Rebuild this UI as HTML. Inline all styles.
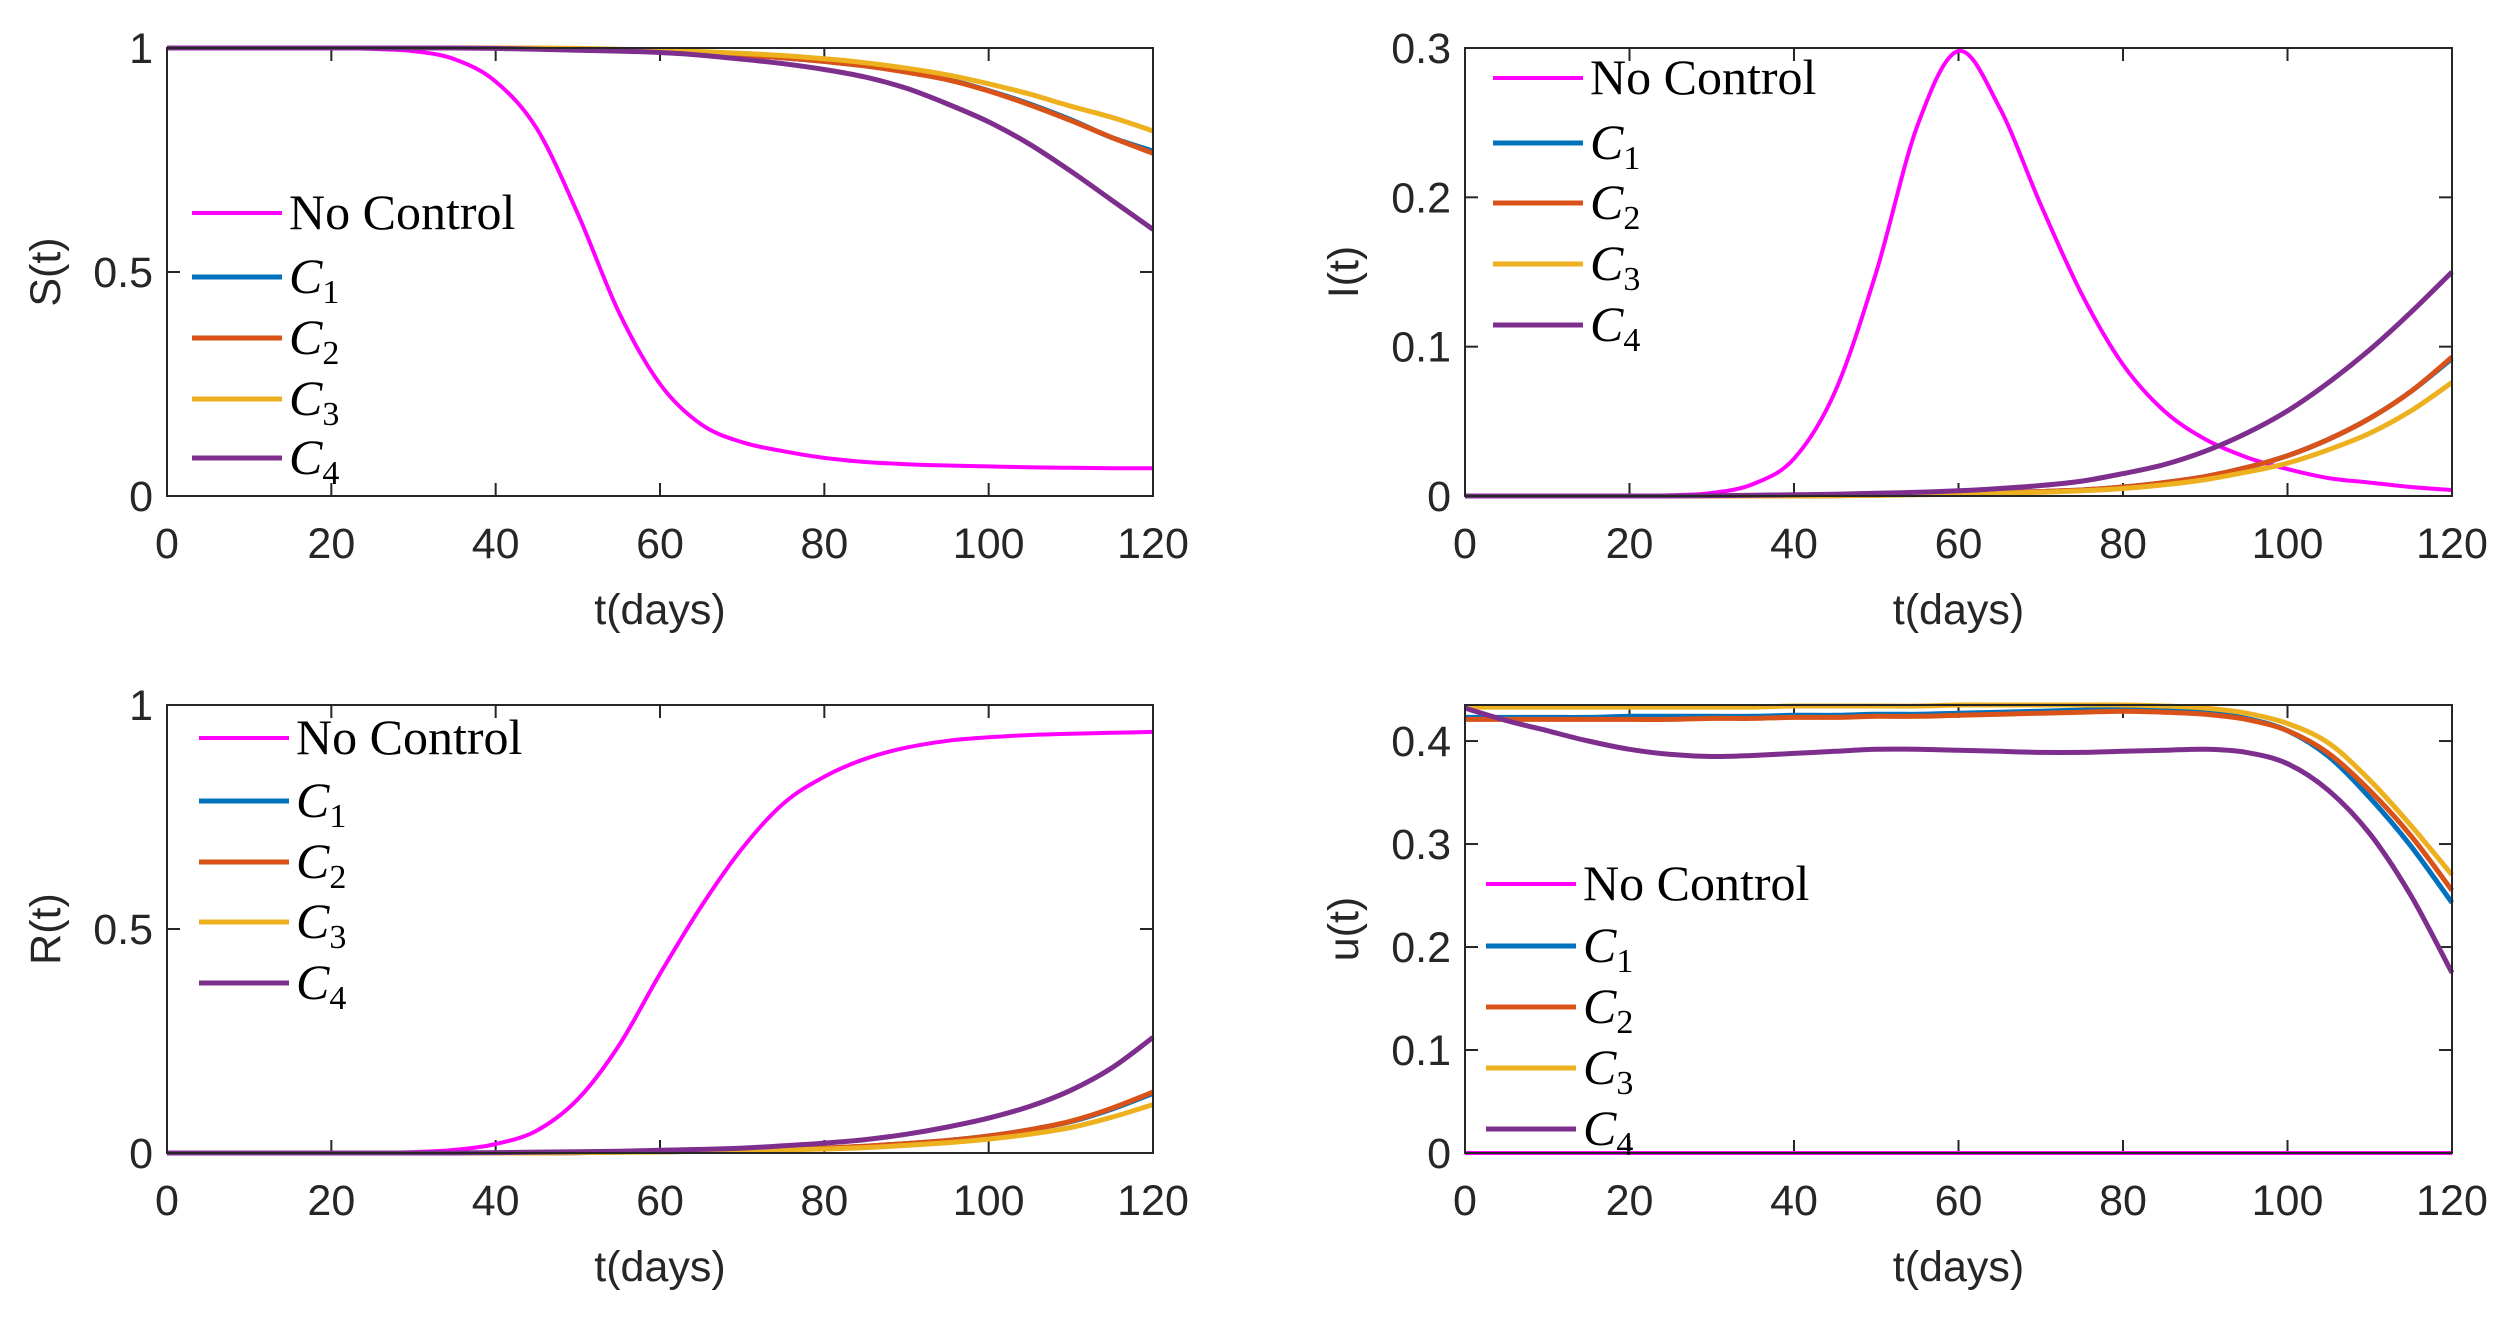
<!DOCTYPE html>
<html><head><meta charset="utf-8"><style>
html,body{margin:0;padding:0;background:#fff;}
svg{display:block;}
</style></head><body>
<svg id="fig" width="2511" height="1320" viewBox="0 0 2511 1320" xmlns="http://www.w3.org/2000/svg"></svg>
<script>
const tGrid = [0,5,10,15,20,25,30,35,40,45,50,55,60,65,70,75,80,85,90,95,100,105,110,115,120];
const seriesNames = ["No Control","C1","C2","C3","C4"];
const colors = ["#FF00FF","#0072BD","#D95319","#EDB120","#7E2F8E"];
// S(t)
const S_nc = [1,1,1,1,1,0.998,0.993,0.975,0.925,0.82,0.63,0.41,0.25,0.16,0.12,0.10,0.085,0.076,0.071,0.068,0.066,0.064,0.063,0.062,0.062];
const S_c1 = [1,1,1,1,1,1,1,1,1,0.999,0.998,0.996,0.993,0.989,0.984,0.978,0.97,0.96,0.947,0.93,0.905,0.875,0.84,0.80,0.77];
const S_c2 = [1,1,1,1,1,1,1,1,1,0.999,0.998,0.996,0.993,0.989,0.984,0.978,0.97,0.96,0.946,0.929,0.904,0.873,0.838,0.80,0.765];
const S_c3 = [1,1,1,1,1,1,1,1,1,1,0.999,0.997,0.995,0.992,0.988,0.983,0.976,0.967,0.955,0.94,0.92,0.897,0.87,0.845,0.815];
const S_c4 = [1,1,1,1,1,1,1,1,0.999,0.997,0.995,0.993,0.99,0.984,0.975,0.965,0.952,0.935,0.91,0.875,0.835,0.785,0.725,0.66,0.595];
// I(t)
const I_nc = [0,0,0,0,0,0.0005,0.002,0.008,0.025,0.07,0.15,0.248,0.298,0.26,0.195,0.135,0.088,0.057,0.038,0.026,0.018,0.012,0.009,0.006,0.004];
const I_c1 = [0,0,0,0,0,0,0,0,0,0.0003,0.0006,0.001,0.0015,0.002,0.003,0.004,0.006,0.009,0.013,0.019,0.027,0.038,0.052,0.07,0.092];
const I_c2 = [0,0,0,0,0,0,0,0,0,0.0003,0.0006,0.001,0.0015,0.002,0.003,0.004,0.006,0.009,0.013,0.019,0.027,0.038,0.052,0.07,0.093];
const I_c3 = [0,0,0,0,0,0,0,0,0,0.0002,0.0004,0.0008,0.0012,0.0018,0.0025,0.0035,0.005,0.0075,0.011,0.016,0.022,0.031,0.042,0.057,0.076];
const I_c4 = [0,0,0,0,0,0,0.0002,0.0005,0.0008,0.0012,0.0018,0.0025,0.0035,0.005,0.007,0.01,0.015,0.021,0.03,0.042,0.057,0.076,0.098,0.123,0.15];
// R(t)
const R_nc = [0,0,0,0,0,0.0005,0.002,0.007,0.02,0.05,0.12,0.24,0.40,0.55,0.68,0.78,0.84,0.88,0.905,0.92,0.928,0.933,0.936,0.938,0.94];
const R_c1 = [0,0,0,0,0,0,0,0,0,0,0.001,0.002,0.003,0.004,0.006,0.008,0.011,0.015,0.021,0.028,0.038,0.052,0.07,0.098,0.133];
const R_c2 = [0,0,0,0,0,0,0,0,0,0,0.001,0.002,0.003,0.004,0.006,0.008,0.011,0.015,0.021,0.028,0.038,0.052,0.071,0.1,0.136];
const R_c3 = [0,0,0,0,0,0,0,0,0,0,0.001,0.0015,0.0025,0.0035,0.005,0.007,0.009,0.012,0.017,0.023,0.031,0.042,0.057,0.08,0.108];
const R_c4 = [0,0,0,0,0,0,0,0,0.001,0.002,0.003,0.004,0.006,0.008,0.011,0.016,0.022,0.03,0.042,0.058,0.078,0.104,0.14,0.19,0.258];
// u(t)
const u_nc = [0,0,0,0,0,0,0,0,0,0,0,0,0,0,0,0,0,0,0,0,0,0,0,0,0];
const u_c1 = [0.423,0.423,0.423,0.423,0.424,0.424,0.424,0.424,0.425,0.425,0.426,0.426,0.427,0.428,0.429,0.43,0.431,0.43,0.428,0.422,0.41,0.385,0.345,0.298,0.243];
const u_c2 = [0.421,0.421,0.421,0.421,0.421,0.421,0.422,0.422,0.423,0.423,0.424,0.424,0.425,0.426,0.427,0.428,0.429,0.428,0.426,0.421,0.41,0.388,0.352,0.308,0.255];
const u_c3 = [0.433,0.433,0.433,0.433,0.433,0.433,0.433,0.433,0.434,0.434,0.434,0.434,0.435,0.435,0.435,0.435,0.435,0.434,0.432,0.427,0.417,0.398,0.362,0.318,0.27];
const u_c4 = [0.432,0.42,0.41,0.4,0.392,0.387,0.385,0.386,0.388,0.39,0.392,0.392,0.391,0.39,0.389,0.389,0.39,0.391,0.392,0.389,0.378,0.352,0.31,0.25,0.175];
const xTicks = [0,20,40,60,80,100,120];
const ySticks = [0,0.5,1];
const yItick = [0,0.1,0.2,0.3];
const yUtick = [0,0.1,0.2,0.3,0.4];

const NS="http://www.w3.org/2000/svg";
const svg=document.getElementById('fig');
function mk(tag,attrs,parent){const e=document.createElementNS(NS,tag);for(const k in attrs)e.setAttribute(k,attrs[k]);(parent||svg).appendChild(e);return e;}
function fmt(v){return (Math.round(v*10)/10).toString();}
function pathFrom(xs,ys){
  let d="M"+xs[0].toFixed(1)+","+ys[0].toFixed(1);
  for(let i=0;i<xs.length-1;i++){
    const x0=xs[Math.max(i-1,0)],y0=ys[Math.max(i-1,0)],x1=xs[i],y1=ys[i],x2=xs[i+1],y2=ys[i+1],x3=xs[Math.min(i+2,xs.length-1)],y3=ys[Math.min(i+2,xs.length-1)];
    const c1x=x1+(x2-x0)/6,c1y=y1+(y2-y0)/6,c2x=x2-(x3-x1)/6,c2y=y2-(y3-y1)/6;
    d+=" C"+c1x.toFixed(1)+","+c1y.toFixed(1)+" "+c2x.toFixed(1)+","+c2y.toFixed(1)+" "+x2.toFixed(1)+","+y2.toFixed(1);
  }
  return d;
}
function panel(cfg){
  const g=mk('g',{});
  
  
  const L=cfg.x0,R=cfg.x1,T=cfg.y0,B=cfg.y1;
  const sx=v=>L+(v-0)/120*(R-L);
  const sy=v=>B-(v-cfg.ymin)/(cfg.ymax-cfg.ymin)*(B-T);
  const fam='"Liberation Sans",Arial,sans-serif';
  xTicks.forEach(t=>{
    const x=sx(t);
    mk('line',{x1:x,y1:B,x2:x,y2:B-13,stroke:'#262626','stroke-width':2},g);
    mk('line',{x1:x,y1:T,x2:x,y2:T+13,stroke:'#262626','stroke-width':2},g);
    const tx=mk('text',{x:x,y:B+62,'font-family':fam,'font-size':43,'text-anchor':'middle',fill:'#262626'},g);
    tx.textContent=t;
    
    
  });
  cfg.yt.forEach(v=>{
    const y=sy(v);
    mk('line',{x1:L,y1:y,x2:L+13,y2:y,stroke:'#262626','stroke-width':2},g);
    mk('line',{x1:R,y1:y,x2:R-13,y2:y,stroke:'#262626','stroke-width':2},g);
    const tx=mk('text',{x:L-14,y:y+15,'font-family':fam,'font-size':43,'text-anchor':'end',fill:'#262626'},g);
    tx.textContent=fmt(v);
    
    
  });
  cfg.series.forEach((arr,i)=>{
    const xs=tGrid.map(sx), ys=arr.map(sy);
    const p=mk('path',{d:pathFrom(xs,ys),fill:'none',stroke:colors[i],'stroke-width':i===0?4:5,'stroke-linejoin':'round'},g);
    
    
  });
  mk('rect',{x:L,y:T,width:R-L,height:B-T,fill:'none',stroke:'#262626','stroke-width':2},g);
  const xl=mk('text',{x:(L+R)/2,y:B+128,'font-family':fam,'font-size':43,'text-anchor':'middle',fill:'#262626'},g);
  xl.textContent='t(days)';
  
  
  const yx=cfg.ylx, yy=(T+B)/2;
  const yl=mk('text',{x:yx,y:yy,'font-family':fam,'font-size':43,'text-anchor':'middle',fill:'#262626',transform:'rotate(-90 '+yx+' '+yy+')'},g);
  yl.textContent=cfg.ylabel;
  
  
  const lg=mk('g',{},g);
  
  
  cfg.legY.forEach((y,i)=>{
    const e=mk('g',{},lg);
    
    
    mk('line',{x1:cfg.legX,y1:y,x2:cfg.legX+90,y2:y,stroke:colors[i],'stroke-width':i===0?4:5},e);
    const tx=mk('text',{x:cfg.legX+97,y:y+16,'font-family':'"Liberation Serif",serif','font-size':50,fill:'#000'},e);
    if(i===0){tx.textContent='No Control';}
    else{
      const c=mk('tspan',{'font-style':'italic'},tx);c.textContent='C';
      const s=mk('tspan',{'font-size':34,dy:10},tx);s.textContent=String(i);
    }
  });
}
panel({name:'s',x0:167,x1:1153,y0:48,y1:496,ymin:0,ymax:1,yt:ySticks,ylabel:'S(t)',ylx:60,
  series:[S_nc,S_c1,S_c2,S_c3,S_c4],legX:192,legY:[213,277,338,399,458]});
panel({name:'i',x0:1465,x1:2452,y0:48,y1:496,ymin:0,ymax:0.3,yt:yItick,ylabel:'I(t)',ylx:1358,
  series:[I_nc,I_c1,I_c2,I_c3,I_c4],legX:1493,legY:[78,143,203,264,325]});
panel({name:'r',x0:167,x1:1153,y0:705,y1:1153,ymin:0,ymax:1,yt:ySticks,ylabel:'R(t)',ylx:60,
  series:[R_nc,R_c1,R_c2,R_c3,R_c4],legX:199,legY:[738,801,862,922,983]});
panel({name:'u',x0:1465,x1:2452,y0:705,y1:1153,ymin:0,ymax:0.435,yt:yUtick,ylabel:'u(t)',ylx:1358,
  series:[u_nc,u_c1,u_c2,u_c3,u_c4],legX:1486,legY:[884,946,1007,1068,1129]});
</script>
</body></html>
